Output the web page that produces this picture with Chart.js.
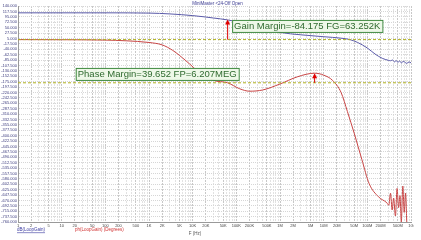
<!DOCTYPE html>
<html>
<head>
<meta charset="utf-8">
<script src="https://cdn.jsdelivr.net/npm/chart.js@4/dist/chart.umd.min.js"></script>
<style>
html, body { margin: 0; padding: 0; background: #fff; }
</style>
</head>
<body>
<canvas id="bode" width="421" height="240"></canvas>
<script>
// loop gain, magnitude (dB)
var gainFreq = [1, 100, 1000, 3000, 10000, 30000, 63000, 150000, 400000, 1e6, 3e6, 1e7, 2.5e7, 4e7, 6e7, 1e8, 1.5e8, 2.2e8, 3e8,
    3.4e8, 3.8e8, 4.2e8, 4.6e8, 5e8, 5.5e8, 6e8, 6.6e8, 7.2e8, 8e8, 9e8, 1e9];
var gainDb = [111.5, 111.5, 110.5, 107, 100, 90, 82, 68, 48, 30, 20, 12, 6, 0, -12, -35, -60, -78, -86,
    -88, -85, -93, -87, -95, -89, -97, -91, -94, -99, -93, -97];

// loop gain, phase (degrees)
var phaseFreq = [1, 10, 100, 300, 1000, 2000, 3500, 7000, 15000, 30000, 63000, 120000, 200000, 400000, 1e6, 2.5e6, 6.2e6,
    1e7, 1.6e7, 2.5e7, 3.5e7, 5e7, 7.5e7, 1.1e8, 1.8e8, 2.8e8,
    3.1e8, 3.4e8, 3.7e8, 4e8, 4.4e8, 4.8e8, 5.2e8, 5.6e8, 6e8, 6.5e8, 7e8, 7.5e8, 8e8];
var phaseDeg = [0, -0.5, -2, -5, -12, -22, -45, -88, -140, -170, -180, -205, -215, -210, -185, -155, -140,
    -148, -170, -220, -300, -390, -500, -600, -655, -680,
    -690, -640, -710, -660, -735, -620, -700, -650, -760, -610, -720, -640, -760];

// reference levels
var refLevels = [0, -180];

// margins
var fgFreq = 63252, gainAtFg = 84.175;
var fpFreq = 6.207e6, phaseAtFp = -140.348;
var gainLabel = "Gain Margin=-84.175 FG=63.252K";
var phaseLabel = "Phase Margin=39.652 FP=6.207MEG";

// axis ticks
var xTickValues = [1, 2, 5, 10, 20, 50, 100, 200, 500, 1e3, 2e3, 5e3, 1e4, 2e4, 5e4, 1e5, 2e5, 5e5,
    1e6, 2e6, 5e6, 1e7, 2e7, 5e7, 1e8, 2e8, 5e8, 1e9];
var xTickLabels = ["1", "2", "5", "10", "20", "50", "100", "200", "500", "1K", "2K", "5K", "10K", "20K", "50K",
    "100K", "200K", "500K", "1M", "2M", "5M", "10M", "20M", "50M", "100M", "200M", "500M", "1G"];
var yTickValues = [140, 117.5, 95, 72.5, 50, 27.5, 5, -17.5, -40, -62.5, -85, -107.5, -130, -152.5, -175, -197.5,
    -220, -242.5, -265, -287.5, -310, -332.5, -355, -377.5, -400, -422.5, -445, -467.5, -490, -512.5,
    -535, -557.5, -580, -602.5, -625, -647.5, -670, -692.5, -715, -737.5, -760];

var FONT = '"Liberation Sans", Arial, sans-serif';

function pts(xs, ys) {
    return xs.map(function(f, i) { return { x: f, y: ys[i] }; });
}

function arrow(c, x, yFrom, yTo) {
    c.strokeStyle = '#e00000';
    c.fillStyle = '#e00000';
    c.lineWidth = 1;
    c.beginPath();
    c.moveTo(x, yFrom);
    c.lineTo(x, yTo + 3);
    c.stroke();
    c.beginPath();
    c.moveTo(x, yTo);
    c.lineTo(x - 2.5, yTo + 5);
    c.lineTo(x + 2.5, yTo + 5);
    c.closePath();
    c.fill();
}

function labelBox(c, text, x, yMid) {
    c.font = '9.5px ' + FONT;
    var w = c.measureText(text).width + 4;
    c.fillStyle = '#eef8e8';
    c.fillRect(x, yMid - 6, w, 12);
    c.strokeStyle = '#3f8a3f';
    c.lineWidth = 1;
    c.strokeRect(x + 0.5, yMid - 5.5, w, 12);
    c.fillStyle = '#2f6a2f';
    c.textBaseline = 'middle';
    c.textAlign = 'left';
    c.fillText(text, x + 2, yMid + 0.5);
}

var overlay = {
    id: 'overlay',
    afterDatasetsDraw: function(chart) {
        var c = chart.ctx, xs = chart.scales.x, ys = chart.scales.y;
        c.save();
        arrow(c, xs.getPixelForValue(fgFreq), ys.getPixelForValue(0), ys.getPixelForValue(gainAtFg));
        arrow(c, xs.getPixelForValue(fpFreq), ys.getPixelForValue(-180), ys.getPixelForValue(phaseAtFp));
        labelBox(c, gainLabel, xs.getPixelForValue(80000), ys.getPixelForValue(57));
        labelBox(c, phaseLabel, xs.getPixelForValue(21), ys.getPixelForValue(-143));
        c.restore();
    },
    afterDraw: function(chart) {
        var c = chart.ctx, a = chart.chartArea;
        c.save();
        c.font = '4.5px ' + FONT;
        c.textBaseline = 'middle';
        c.textAlign = 'center';
        c.fillStyle = '#3a3a90';
        c.fillText("MiniMaster <24-Off Open", (a.left + a.right) / 2 + 3, 3.5);
        c.fillStyle = '#555';
        c.fillText("F (Hz)", 195, 234);
        c.textAlign = 'left';
        c.fillStyle = '#3a3aa0';
        c.fillText("dB(LoopGain)", 17, 230);
        var w = c.measureText("dB(LoopGain)").width;
        c.fillRect(17, 232.5, w, 0.6);
        c.fillStyle = '#d03030';
        c.fillText("ph(LoopGain) (Degrees)", 75, 230);
        c.restore();
    }
};

var datasets = [
    { data: pts(gainFreq, gainDb), borderColor: '#5a5aa8', borderWidth: 1, order: 2 },
    { data: pts(phaseFreq, phaseDeg), borderColor: '#c84444', borderWidth: 1, order: 3 }
];
refLevels.forEach(function(v) {
    datasets.push({ data: [{ x: 1, y: v }, { x: 1e9, y: v }], borderColor: '#b0b020',
        borderWidth: 1, borderDash: [3, 2], order: 1 });
});

new Chart(document.getElementById('bode'), {
    type: 'line',
    data: { datasets: datasets },
    options: {
        responsive: false,
        animation: false,
        devicePixelRatio: 1,
        layout: { padding: { top: 6, right: 10, left: 0, bottom: 0 } },
        elements: { point: { radius: 0 }, line: { cubicInterpolationMode: 'monotone' } },
        plugins: { legend: { display: false }, tooltip: { enabled: false } },
        scales: {
            x: {
                type: 'logarithmic', min: 1, max: 1e9,
                afterBuildTicks: function(s) {
                    var t = [];
                    for (var d = 1; d < 1e9; d *= 10)
                        for (var m = 1; m < 10; m++) t.push({ value: d * m });
                    t.push({ value: 1e9 });
                    s.ticks = t;
                },
                afterFit: function(s) { s.height = 18; },
                ticks: {
                    autoSkip: false, maxRotation: 0, padding: 1,
                    font: { size: 4, family: FONT }, color: '#444',
                    callback: function(v) {
                        var i = xTickValues.findIndex(function(t) { return Math.abs(t - v) / t < 1e-6; });
                        return i < 0 ? '' : xTickLabels[i];
                    }
                },
                grid: {
                    tickLength: 0,
                    color: function(ctx) {
                        var v = ctx.tick ? ctx.tick.value : 0;
                        var m = Math.round(v / Math.pow(10, Math.floor(Math.log10(v) + 1e-9)));
                        return (m === 1 || m === 2 || m === 5) ? '#c8c8c8' : '#e2e2e2';
                    }
                },
                border: { color: '#999', dash: [2, 1] }
            },
            y: {
                type: 'linear', min: -760, max: 140,
                afterBuildTicks: function(s) {
                    s.ticks = yTickValues.map(function(v) { return { value: v }; });
                },
                afterFit: function(s) { s.width = 18; },
                ticks: {
                    autoSkip: false, padding: 1,
                    font: { size: 4, family: FONT }, color: '#404080',
                    callback: function(v) { return v.toFixed(3); }
                },
                grid: { tickLength: 0, color: '#d6d6d6' },
                border: { color: '#999', dash: [1, 1] }
            }
        }
    },
    plugins: [overlay]
});
</script>
</body>
</html>
